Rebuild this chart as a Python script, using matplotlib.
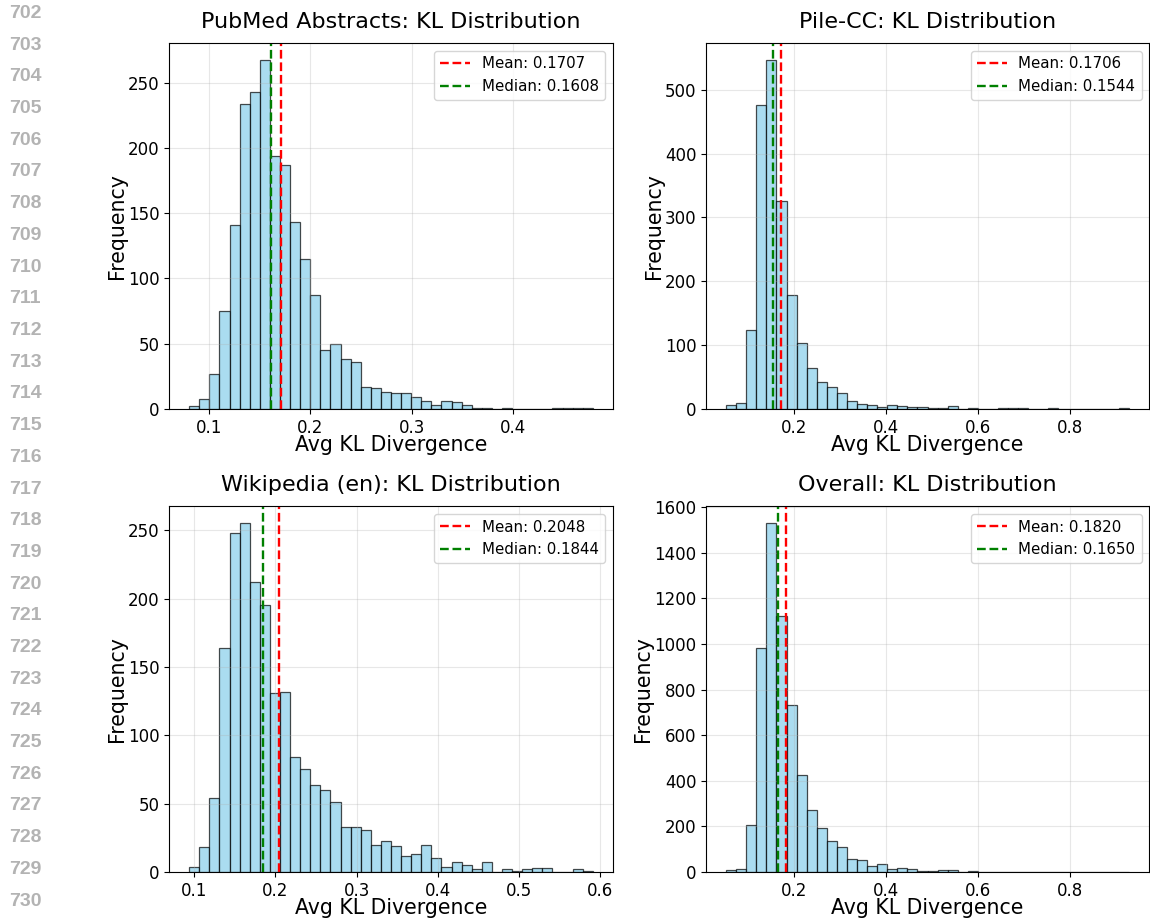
import numpy as np
import matplotlib
matplotlib.use("Agg")
import matplotlib.pyplot as plt
from matplotlib.ticker import MultipleLocator

W, H = 1150, 923

# ---------------- data ----------------
titles = ["PubMed Abstracts: KL Distribution", "Pile-CC: KL Distribution",
          "Wikipedia (en): KL Distribution", "Overall: KL Distribution"]

pubmed_range = (0.0806, 0.4786)
pubmed_counts = [2, 8, 27, 75, 141, 234, 243, 267, 194, 187,
                 143, 115, 87, 45, 50, 38, 36, 17, 16, 13,
                 12, 12, 9, 6, 3, 6, 5, 3, 1, 1,
                 0, 1, 0, 0, 0, 0, 1, 1, 1, 1]
pubmed_mean, pubmed_median = 0.1707, 0.1608

pile_range = (0.0516, 0.9275)
pile_counts = [6, 9, 123, 476, 546, 326, 179, 104, 65, 43,
               34, 25, 13, 8, 6, 3, 7, 4, 3, 3,
               2, 2, 4, 0, 1, 0, 0, 1, 1, 1,
               0, 0, 1, 0, 0, 0, 0, 0, 0, 1]
pile_mean, pile_median = 0.1706, 0.1544

wiki_range = (0.0938, 0.591)
wiki_counts = [4, 18, 54, 164, 248, 255, 212, 195, 131, 132,
               84, 75, 64, 60, 51, 33, 33, 31, 20, 23,
               19, 12, 13, 20, 10, 4, 7, 5, 2, 7,
               0, 2, 1, 2, 3, 3, 0, 0, 2, 1]
wiki_mean, wiki_median = 0.2048, 0.1844

overall_range = (0.0516, 0.9275)
overall_counts = [7, 15, 207, 984, 1528, 1123, 731, 425, 273, 191,
                  136, 109, 58, 53, 26, 34, 15, 16, 13, 6,
                  4, 9, 7, 2, 3, 1, 1, 1, 1, 1,
                  0, 0, 1, 0, 0, 0, 0, 0, 0, 1]
overall_mean, overall_median = 0.1820, 0.1650

x_tick_steps = [0.1, 0.2, 0.1, 0.2]

line_numbers = list(range(702, 731))

datasets = [
    (pubmed_range, pubmed_counts, pubmed_mean, pubmed_median),
    (pile_range, pile_counts, pile_mean, pile_median),
    (wiki_range, wiki_counts, wiki_mean, wiki_median),
    (overall_range, overall_counts, overall_mean, overall_median),
]

# ---------------- layout ----------------
fig = plt.figure(figsize=(W / 100, H / 100), dpi=100)

boxes = [(169, 613, 43, 409), (706, 1149, 43, 409),
         (169, 613, 506, 872), (706, 1149, 506, 872)]


def add_ax(l, r, t, b):
    return fig.add_axes([l / W, 1 - b / H, (r - l) / W, (b - t) / H])


for (l, r, t, b), title, step, (rng, counts, mean, median) in zip(
        boxes, titles, x_tick_steps, datasets):
    ax = add_ax(l, r, t, b)
    edges = np.linspace(rng[0], rng[1], len(counts) + 1)
    centers = (edges[:-1] + edges[1:]) / 2
    ax.hist(centers, bins=edges, weights=counts, color="skyblue",
            edgecolor="black", alpha=0.7, linewidth=0.9)
    ax.axvline(mean, color="red", linestyle="--", linewidth=1.7,
               label=f"Mean: {mean:.4f}")
    ax.axvline(median, color="green", linestyle="--", linewidth=1.7,
               label=f"Median: {median:.4f}")
    ax.xaxis.set_major_locator(MultipleLocator(step))
    ax.set_title(title, fontsize=16, pad=11)
    ax.set_xlabel("Avg KL Divergence", fontsize=14.8, labelpad=-1)
    ax.set_ylabel("Frequency", fontsize=14.8, labelpad=0.5)
    ax.tick_params(labelsize=12)
    ax.grid(True, alpha=0.3)
    ax.legend(fontsize=10.8, loc="upper right")

# line numbers on the left margin
for i, n in enumerate(line_numbers):
    y = 13.5 + i * 31.7
    fig.text(25 / W, 1 - y / H, str(n), ha="center", va="center",
             fontsize=14, fontweight="bold", color="#b3b3b3",
             family="Liberation Sans")

fig.savefig("out.png", dpi=100)
